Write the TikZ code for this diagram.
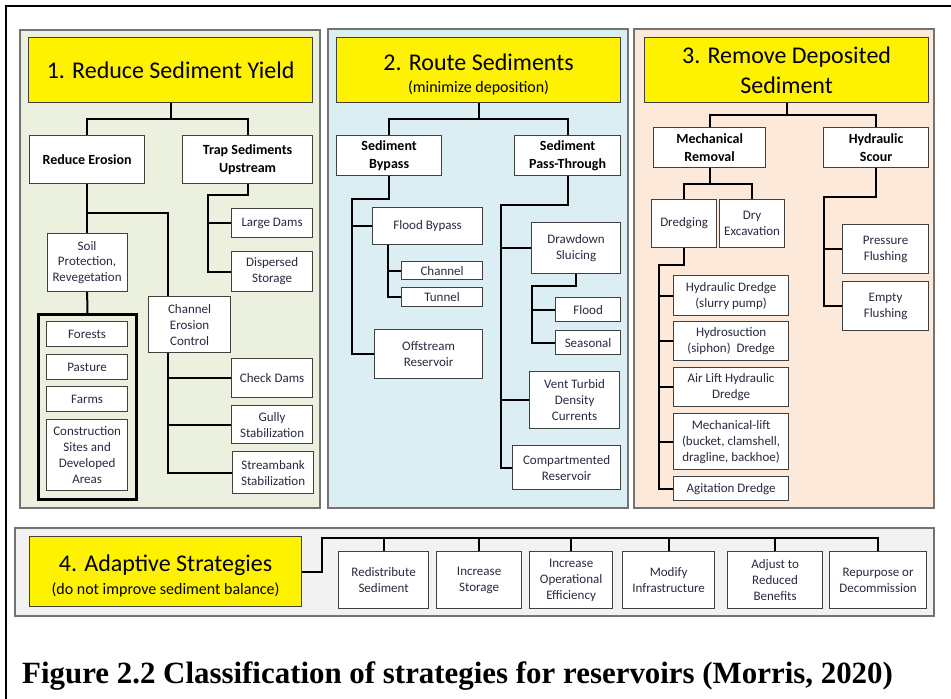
\documentclass[tikz,border=0pt]{standalone}
\usepackage{fontspec}
\setmainfont{Carlito}
\newfontfamily\capfont{Liberation Serif}
\definecolor{txtc}{HTML}{262B40}
\definecolor{greenbg}{HTML}{EBF1DE}
\definecolor{bluebg}{HTML}{DAEEF3}
\definecolor{peachbg}{HTML}{FDE9D9}
\definecolor{graybg}{HTML}{F2F2F2}
\tikzset{
  panel/.style={draw=black!55, line width=1.3pt},
  hdr/.style={draw=black!75, fill=yellow, line width=1.2pt, anchor=north west, inner sep=0pt, align=center, font=\fontsize{24}{29}\selectfont},
  leaf/.style={draw=black!75, fill=white, line width=1.2pt, anchor=north west, inner sep=0pt, align=center, text=txtc, font=\fontsize{13}{16}\selectfont},
  sub/.style={leaf, text=black, font=\bfseries\fontsize{14}{17.5}\selectfont},
  link/.style={draw=black, line width=2pt},
}
\begin{document}
\begin{tikzpicture}[x=1pt,y=-1pt]
    \useasboundingbox (0,0) rectangle (951,699);
    \draw[line width=2pt] (6,699) -- (6,6) -- (951,6);
    \draw[panel, fill=greenbg] (20,30) rectangle (320,508);
    \draw[panel, fill=bluebg] (328,29) rectangle (628,508);
    \draw[panel, fill=peachbg] (634,29) rectangle (934,508);
    \draw[panel, fill=graybg] (15,528) rectangle (934,616);

    % 1. reduce yield
    \node[hdr, minimum width=284pt, minimum height=65pt] (t1) at (28,37) {1. Reduce Sediment Yield};
    \node[sub, minimum width=115pt, minimum height=48pt] (rero) at (29,135) {Reduce Erosion};
    \node[sub, minimum width=130pt, minimum height=48pt] (trap) at (182,135) {Trap Sediments\\Upstream};
    \node[leaf, minimum width=81pt, minimum height=29pt] (ldams) at (231,208) {Large Dams};
    \node[leaf, minimum width=81pt, minimum height=40pt] (dstor) at (231,251) {Dispersed\\Storage};
    \node[leaf, minimum width=80pt, minimum height=58pt] (soil) at (46.5,233) {Soil\\Protection,\\Revegetation};
    \node[draw=black, line width=3pt, anchor=north west, minimum width=98pt, minimum height=185pt] (land) at (37,313) {};
    \node[leaf, minimum width=81pt, minimum height=25pt] (forest) at (46,321) {Forests};
    \node[leaf, minimum width=81pt, minimum height=25pt] (pasture) at (46,354) {Pasture};
    \node[leaf, minimum width=81pt, minimum height=25pt] (farms) at (46,386) {Farms};
    \node[leaf, minimum width=81pt, minimum height=71pt] (constr) at (46,419) {Construction\\Sites and\\Developed\\Areas};
    \node[leaf, minimum width=82pt, minimum height=56pt] (chan) at (148,296) {Channel\\Erosion\\Control};
    \node[leaf, minimum width=81pt, minimum height=39pt] (chkd) at (231,358) {Check Dams};
    \node[leaf, minimum width=81pt, minimum height=38pt] (gully) at (231,405) {Gully\\Stabilization};
    \node[leaf, minimum width=81pt, minimum height=42pt] (strm) at (232,451) {Streambank\\Stabilization};

    \draw[link] (t1.south) -- ++(0,16) -| (rero.north);
    \draw[link] (t1.south) ++(0,16) -| (trap.north);
    \draw[link] (trap.south) -- ++(0,11) -- ++(-40,0) |- (dstor.west);
    \draw[link] (ldams.west) -- ++(-24,0);
    \draw[link] (rero.south) -- (soil.north);
    \draw[link] (rero.south) ++(0,29) -| ([xshift=20pt]chan.north west);
    \draw[link] (soil.south) -- (land.north);
    \draw[link] ([xshift=20pt]chan.south west) |- (strm.west);
    \draw[link] (chkd.west) -- ++(-63,0);
    \draw[link] (gully.west) -- ++(-63,0);

    % 2. route sediments
    \node[hdr, minimum width=284pt, minimum height=65pt] (t2) at (336,37) {\rule{0pt}{26pt}2. Route Sediments\\[-7pt]{\fontsize{16}{19}\selectfont (minimize deposition)}};
    \node[sub, minimum width=105pt, minimum height=40pt] (byp) at (336,135) {Sediment\\Bypass};
    \node[sub, minimum width=106pt, minimum height=40pt] (pass) at (514,135) {Sediment\\Pass-Through};
    \node[leaf, minimum width=110pt, minimum height=37pt] (fbyp) at (372,207) {Flood Bypass};
    \node[leaf, minimum width=81pt, minimum height=18pt] (chnl) at (401,261) {Channel};
    \node[leaf, minimum width=81pt, minimum height=19pt] (tunl) at (401,287) {Tunnel};
    \node[leaf, minimum width=108pt, minimum height=49pt] (offs) at (374,329) {Offstream\\Reservoir};
    \node[leaf, minimum width=89pt, minimum height=51pt] (drsl) at (531,222) {Drawdown\\Sluicing};
    \node[leaf, minimum width=65pt, minimum height=24pt] (fld) at (555,297) {Flood};
    \node[leaf, minimum width=65pt, minimum height=24pt] (seas) at (555,330) {Seasonal};
    \node[leaf, minimum width=90pt, minimum height=57pt] (vent) at (529,371) {Vent Turbid\\Density\\Currents};
    \node[leaf, minimum width=108pt, minimum height=44pt] (comp) at (512,445) {Compartmented\\Reservoir};

    \draw[link] (t2.south) -- ++(0,16) -| (byp.north);
    \draw[link] (t2.south) ++(0,16) -| (pass.north);
    \draw[link] (byp.south) -- ++(0,23) -- ++(-37.5,0) |- (offs.west);
    \draw[link] (fbyp.west) -- ++(-21,0);
    \draw[link] ([xshift=16pt]fbyp.south west) |- (tunl.west);
    \draw[link] (chnl.west) -- ++(-13,0);
    \draw[link] (pass.south) -- ++(0,29) -- ++(-67,0) |- (comp.west);
    \draw[link] (drsl.west) -- ++(-31,0);
    \draw[link] (vent.west) -- ++(-29,0);
    \draw[link] (drsl.south) -- ++(0,12) -- ++(-44.5,0) |- (seas.west);
    \draw[link] (fld.west) -- ++(-24,0);

    % 3. remove deposited sediment
    \node[hdr, minimum width=284pt, minimum height=65pt] (t3) at (644,37) {3. Remove Deposited\\[1pt]Sediment};
    \node[sub, minimum width=112pt, minimum height=40pt] (mech) at (653,127) {Mechanical\\Removal};
    \node[sub, minimum width=105pt, minimum height=40pt] (hyds) at (823,127) {Hydraulic\\Scour};
    \node[leaf, minimum width=65pt, minimum height=48pt] (dredg) at (651,199) {Dredging};
    \node[leaf, minimum width=65pt, minimum height=48pt] (dryx) at (719,199) {Dry\\Excavation};
    \node[leaf, minimum width=115pt, minimum height=40pt] (hydd) at (673,275) {Hydraulic Dredge\\(slurry pump)};
    \node[leaf, minimum width=115pt, minimum height=39pt] (hsuc) at (673,321) {Hydrosuction\\(siphon)~ Dredge};
    \node[leaf, minimum width=115pt, minimum height=39pt] (airl) at (673,367) {Air Lift Hydraulic\\Dredge};
    \node[leaf, minimum width=115pt, minimum height=56pt] (mlft) at (673,413) {Mechanical-lift\\(bucket, clamshell,\\dragline, backhoe)};
    \node[leaf, minimum width=115pt, minimum height=24pt] (agit) at (673,476) {Agitation Dredge};
    \node[leaf, minimum width=86pt, minimum height=49pt] (prsf) at (842,224) {Pressure\\Flushing};
    \node[leaf, minimum width=86pt, minimum height=49pt] (empf) at (842,281) {Empty\\Flushing};

    \draw[link] (t3.south) -- ++(0,12) -| (mech.north);
    \draw[link] (t3.south) ++(0,12) -| (hyds.north);
    \draw[link] (mech.south) -- ++(0,16) -| (dredg.north);
    \draw[link] (mech.south) ++(0,16) -| (dryx.north);
    \draw[link] (dredg.south) -- ++(0,17) -- ++(-25.5,0) |- (agit.west);
    \foreach \n in {hydd,hsuc,airl,mlft}
        \draw[link] (\n.west) -- ++(-15,0);
    \draw[link] (hyds.south) -- ++(0,29) -- ++(-52.5,0) |- (empf.west);
    \draw[link] (prsf.west) -- ++(-19,0);

    % 4. adaptive strategies
    \node[hdr, minimum width=272pt, minimum height=70pt] (t4) at (29,536) {\rule{0pt}{25pt}4. Adaptive Strategies\\[-6pt]{\fontsize{16}{19}\selectfont (do not improve sediment balance)}};
    \node[leaf, minimum width=90pt, minimum height=57pt] (redis) at (338,551) {Redistribute\\Sediment};
    \node[leaf, minimum width=85pt, minimum height=57pt] (incs) at (436,551) {Increase\\Storage};
    \node[leaf, minimum width=83pt, minimum height=57pt] (ince) at (529,551) {Increase\\Operational\\Efficiency};
    \node[leaf, minimum width=92pt, minimum height=57pt] (modi) at (622,551) {Modify\\Infrastructure};
    \node[leaf, minimum width=95pt, minimum height=57pt] (adju) at (727,551) {Adjust to\\Reduced\\Benefits};
    \node[leaf, minimum width=97pt, minimum height=57pt] (repu) at (829,551) {Repurpose or\\Decommission};

    \draw[link] (t4.east) -- ++(20,0) -- ++(0,-34) -| (repu.north);
    \foreach \n in {redis,incs,ince,modi,adju}
        \draw[link] (\n.north) -- ++(0,-14);

    \node[anchor=base west, inner sep=0pt, font=\capfont\bfseries\fontsize{30.9}{36}\selectfont] (cap) at (22,683) {Figure 2.2 Classification of strategies for reservoirs (Morris, 2020)};
\end{tikzpicture}
\end{document}
